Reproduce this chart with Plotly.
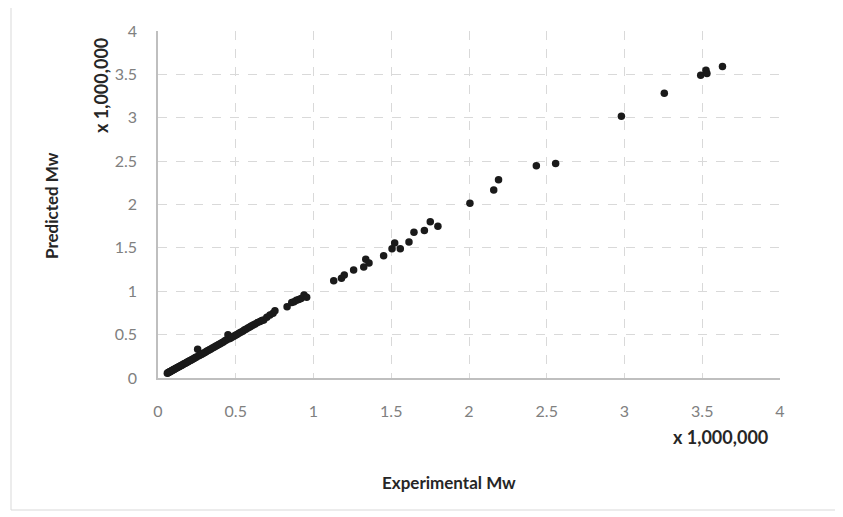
import plotly.graph_objects as go

# Values in units of 1,000,000
experimental = [
    0.060, 0.064, 0.068, 0.072, 0.076, 0.080, 0.085, 0.090, 0.095, 0.100,
    0.105, 0.110, 0.116, 0.122, 0.128, 0.134, 0.140, 0.146, 0.152, 0.158,
    0.165, 0.172, 0.179, 0.186, 0.193, 0.200, 0.208, 0.216, 0.224, 0.232,
    0.240, 0.248, 0.255, 0.262, 0.270, 0.278, 0.286, 0.295, 0.304, 0.313,
    0.322, 0.331, 0.340, 0.350, 0.360, 0.370, 0.380, 0.390, 0.400, 0.410,
    0.420, 0.430, 0.440, 0.450, 0.458, 0.468, 0.478, 0.488, 0.498, 0.508,
    0.520, 0.532, 0.545, 0.555, 0.565, 0.578, 0.590, 0.600, 0.612, 0.625,
    0.640, 0.656, 0.668, 0.680, 0.700, 0.720, 0.740, 0.752,
    0.830, 0.860, 0.875, 0.890, 0.905, 0.920, 0.939, 0.956,
    1.130, 1.180, 1.198, 1.258, 1.323, 1.336, 1.357, 1.451, 1.505, 1.522,
    1.558, 1.614, 1.646, 1.713, 1.751, 1.800,
    2.006, 2.159, 2.190, 2.433, 2.557,
    2.980, 3.256, 3.490, 3.524, 3.530, 3.630,
]
predicted = [
    0.055, 0.060, 0.064, 0.069, 0.072, 0.076, 0.082, 0.086, 0.092, 0.096,
    0.101, 0.106, 0.112, 0.118, 0.124, 0.129, 0.136, 0.141, 0.148, 0.153,
    0.160, 0.167, 0.174, 0.181, 0.188, 0.195, 0.203, 0.210, 0.219, 0.226,
    0.235, 0.242, 0.330, 0.256, 0.264, 0.272, 0.280, 0.289, 0.298, 0.307,
    0.316, 0.326, 0.335, 0.345, 0.355, 0.365, 0.375, 0.386, 0.396, 0.406,
    0.416, 0.428, 0.438, 0.500, 0.452, 0.462, 0.472, 0.482, 0.492, 0.502,
    0.515, 0.528, 0.540, 0.552, 0.562, 0.575, 0.588, 0.598, 0.610, 0.622,
    0.640, 0.650, 0.662, 0.668, 0.700, 0.725, 0.745, 0.776,
    0.820, 0.870, 0.880, 0.895, 0.905, 0.915, 0.957, 0.930,
    1.120, 1.150, 1.187, 1.245, 1.280, 1.368, 1.326, 1.410, 1.490, 1.556,
    1.490, 1.568, 1.680, 1.700, 1.800, 1.750,
    2.014, 2.168, 2.284, 2.446, 2.473,
    3.018, 3.281, 3.490, 3.548, 3.510, 3.590,
]

tick_vals = [0, 0.5, 1, 1.5, 2, 2.5, 3, 3.5, 4]
tick_text = ["0", "0.5", "1", "1.5", "2", "2.5", "3", "3.5", "4"]

FONT = "Lato, 'Open Sans', sans-serif"
TICK_COLOR = "#808080"
TITLE_COLOR = "#262626"
GRID = "#d9d9d9"

fig = go.Figure()
fig.add_trace(go.Scatter(
    x=experimental, y=predicted, mode="markers",
    marker=dict(size=7.5, color="#1a1a1a"),
    showlegend=False, hoverinfo="x+y",
))

axis_common = dict(
    range=[0, 4], tickvals=tick_vals, ticktext=tick_text,
    showgrid=True, gridcolor=GRID, griddash="dash", gridwidth=1,
    zeroline=False, showline=True, linecolor="#bfbfbf", linewidth=1.5,
    tickfont=dict(family=FONT, size=16, color=TICK_COLOR),
    ticks="", fixedrange=True,
)

# plot area in the page: x 158..780, y 31..378 (page offset 8px by body margin)
fig.update_layout(
    width=835, height=509,
    margin=dict(l=150, r=63, t=23, b=139),
    paper_bgcolor="white", plot_bgcolor="white",
    xaxis=dict(**axis_common, ticklabelstandoff=18),
    yaxis=dict(**axis_common, ticklabelstandoff=16),
    font=dict(family=FONT),
)

# outer chart-area border
fig.add_shape(type="rect", xref="paper", yref="paper",
              x0=(11 - 158) / 622, x1=(836 - 158) / 622,
              y0=(378 - 510) / 347, y1=(378 - 7) / 347,
              line=dict(color="#d9d9d9", width=1), fillcolor="rgba(0,0,0,0)",
              layer="below")

title_font = dict(family=FONT, size=17, color=TITLE_COLOR)
unit_font = dict(family=FONT, size=18, color=TITLE_COLOR)
fig.add_annotation(text="<b>Experimental Mw</b>", xref="paper", yref="paper",
                   x=(449 - 158) / 622, y=(378 - 482) / 347,
                   showarrow=False, font=title_font, xanchor="center", yanchor="middle")
fig.add_annotation(text="<b>x 1,000,000</b>", xref="paper", yref="paper",
                   x=(720 - 158) / 622, y=(378 - 437) / 347,
                   showarrow=False, font=unit_font, xanchor="center", yanchor="middle")
fig.add_annotation(text="<b>Predicted Mw</b>", xref="paper", yref="paper",
                   x=(51 - 158) / 622, y=(378 - 206) / 347, textangle=-90,
                   showarrow=False, font=title_font, xanchor="center", yanchor="middle")
fig.add_annotation(text="<b>x 1,000,000</b>", xref="paper", yref="paper",
                   x=(101 - 158) / 622, y=(378 - 86) / 347, textangle=-90,
                   showarrow=False, font=unit_font, xanchor="center", yanchor="middle")

fig.write_html("out.html")
